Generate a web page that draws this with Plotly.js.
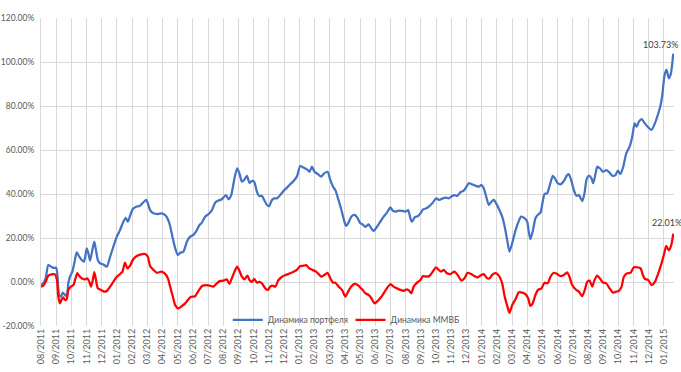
<!DOCTYPE html>
<html>
<head>
<meta charset="utf-8">
<script src="https://cdn.plot.ly/plotly-3.0.1.min.js"></script>
<style>html,body{margin:0;padding:0;background:#fff}#chart{width:681px;height:372px}</style>
</head>
<body>
<div id="chart"></div>
<script>
// Month ticks (index 0 = 08/2011)
const tickLabels = ["08/2011","09/2011","10/2011","11/2011","12/2011","01/2012","02/2012","03/2012","04/2012","05/2012","06/2012","07/2012","08/2012","09/2012","10/2012","11/2012","12/2012","01/2013","02/2013","03/2013","04/2013","05/2013","06/2013","07/2013","08/2013","09/2013","10/2013","11/2013","12/2013","01/2014","02/2014","03/2014","04/2014","05/2014","06/2014","07/2014","08/2014","09/2014","10/2014","11/2014","12/2014","01/2015"];

// Portfolio dynamics: x in months since 08/2011, value in %
const portfolioX = [0.00,0.15,0.31,0.48,0.66,0.81,0.99,1.07,1.19,1.32,1.43,1.58,1.69,1.80,1.91,2.06,2.19,2.35,2.52,2.68,2.83,3.01,3.12,3.23,3.38,3.51,3.62,3.74,3.89,4.10,4.33,4.55,4.76,4.99,5.20,5.42,5.58,5.71,5.86,6.04,6.26,6.48,6.70,6.92,7.03,7.18,7.40,7.69,7.95,8.23,8.45,8.65,8.83,9.01,9.16,9.37,9.60,9.77,10.03,10.26,10.43,10.59,10.80,11.02,11.25,11.46,11.68,11.90,12.17,12.34,12.52,12.73,12.91,13.06,13.22,13.37,13.55,13.72,13.88,14.03,14.21,14.36,14.54,14.69,14.87,15.02,15.20,15.35,15.53,15.74,15.96,16.19,16.40,16.62,16.84,17.06,17.28,17.50,17.67,17.83,18.00,18.23,18.43,18.64,18.86,19.04,19.22,19.37,19.55,19.74,19.91,20.07,20.24,20.42,20.64,20.84,21.01,21.13,21.34,21.56,21.74,21.89,22.11,22.33,22.55,22.77,22.99,23.17,23.32,23.54,23.76,23.98,24.16,24.31,24.42,24.59,24.82,24.97,25.15,25.36,25.56,25.78,26.00,26.22,26.44,26.66,26.83,27.06,27.23,27.39,27.60,27.82,28.00,28.15,28.37,28.59,28.81,28.99,29.14,29.30,29.47,29.64,29.80,29.97,30.17,30.35,30.52,30.68,30.83,31.01,31.23,31.45,31.60,31.82,32.00,32.10,32.21,32.36,32.54,32.69,32.87,33.02,33.14,33.31,33.49,33.68,33.82,34.01,34.19,34.41,34.63,34.74,34.89,35.07,35.24,35.40,35.62,35.77,35.90,36.05,36.23,36.34,36.50,36.61,36.78,36.98,37.20,37.37,37.60,37.81,37.97,38.14,38.32,38.52,38.74,38.91,39.07,39.20,39.35,39.53,39.74,39.97,40.18,40.40,40.63,40.78,40.89,41.04,41.17,41.32,41.46,41.61];
const portfolioY = [-1.4,-0.6,1.8,7.7,7.0,6.4,6.5,4.0,-5.9,-6.7,-4.8,-5.9,-6.4,-0.6,2.4,4.7,8.5,13.5,11.5,10.0,9.2,15.3,13.0,9.7,14.5,18.3,14.5,10.0,8.5,8.0,7.0,11.5,16.0,20.6,23.6,27.4,29.2,27.4,30.0,33.2,34.2,34.5,36.0,37.3,35.8,32.7,31.2,30.9,31.2,30.0,26.7,20.6,15.3,12.3,13.3,13.8,18.3,20.3,21.4,23.6,25.9,27.0,29.7,30.8,32.7,36.0,37.0,37.6,39.5,37.6,39.5,47.1,51.7,49.4,45.6,46.4,48.2,45.1,45.9,45.6,41.0,39.1,39.1,37.3,35.0,34.5,37.3,38.0,38.0,39.5,41.4,42.9,44.4,45.9,47.9,52.7,52.0,51.2,50.1,52.4,50.1,49.0,47.9,49.4,50.1,46.4,43.3,41.8,38.0,33.5,29.0,25.5,27.0,29.7,30.5,29.0,26.7,26.4,25.1,26.2,24.4,23.2,25.1,27.4,29.7,31.5,33.9,32.3,32.0,32.4,32.3,32.0,32.7,29.0,27.4,29.4,30.0,31.2,33.0,33.5,34.5,36.0,38.0,37.3,38.0,38.3,38.0,39.1,39.5,39.1,40.8,41.5,43.3,44.9,44.4,43.8,43.3,44.1,42.6,38.8,35.0,36.5,37.3,35.5,32.7,29.7,25.1,19.1,13.8,17.6,23.5,27.8,29.7,29.0,27.4,22.9,19.5,22.9,29.0,30.5,31.5,36.5,40.0,40.3,44.1,48.2,47.1,44.9,44.4,45.9,48.6,49.0,46.4,41.8,39.2,39.5,36.8,40.3,46.4,48.3,47.1,44.9,49.4,52.4,51.7,50.1,50.9,50.1,48.3,48.6,50.6,49.1,52.4,58.5,61.5,66.0,72.1,70.6,72.9,74.0,72.1,70.3,69.1,72.1,76.7,80.5,85.0,94.1,96.4,92.6,94.9,103.73];

// MICEX index dynamics
const micexX = [0.00,0.15,0.31,0.48,0.70,0.92,1.05,1.14,1.25,1.36,1.47,1.58,1.69,1.80,1.96,2.13,2.24,2.39,2.52,2.68,2.90,3.05,3.18,3.29,3.41,3.51,3.62,3.74,3.95,4.17,4.33,4.55,4.76,4.99,5.20,5.36,5.53,5.69,5.86,6.04,6.30,6.59,6.85,7.03,7.18,7.40,7.62,7.91,8.12,8.35,8.50,8.68,8.83,9.04,9.27,9.49,9.66,9.88,10.14,10.36,10.63,10.92,11.13,11.35,11.57,11.79,12.01,12.23,12.40,12.60,12.73,12.91,13.06,13.22,13.39,13.59,13.72,13.88,14.03,14.21,14.36,14.54,14.76,14.93,15.09,15.24,15.42,15.63,15.86,16.12,16.40,16.62,16.84,17.06,17.28,17.46,17.65,17.87,18.10,18.27,18.45,18.64,18.86,19.04,19.22,19.37,19.59,19.81,20.03,20.21,20.42,20.64,20.84,21.01,21.13,21.34,21.56,21.74,21.96,22.18,22.40,22.62,22.84,23.01,23.21,23.43,23.65,23.87,24.09,24.24,24.37,24.53,24.75,24.97,25.15,25.36,25.56,25.78,26.00,26.17,26.35,26.50,26.72,26.94,27.21,27.42,27.67,27.87,28.08,28.31,28.52,28.74,28.97,29.14,29.36,29.53,29.69,29.91,30.13,30.35,30.52,30.70,30.83,31.01,31.23,31.45,31.67,31.88,32.06,32.21,32.36,32.54,32.71,32.94,33.14,33.35,33.53,33.75,33.97,34.19,34.41,34.63,34.78,34.96,35.18,35.40,35.62,35.79,35.95,36.10,36.28,36.43,36.61,36.78,36.98,37.20,37.42,37.64,37.86,38.03,38.21,38.36,38.58,38.80,39.02,39.24,39.46,39.61,39.74,39.97,40.18,40.40,40.63,40.84,41.02,41.15,41.32,41.48,41.61];
const micexY = [-2.1,-1.7,0.1,2.9,3.5,3.5,0.9,-6.7,-9.7,-7.9,-7.0,-8.2,-7.9,-3.6,-2.1,-1.4,0.9,4.0,2.7,1.7,1.2,1.7,0.1,-2.1,0.9,4.5,0.9,-2.9,-3.6,-4.4,-4.1,-2.1,0.1,2.4,3.6,4.7,8.8,6.2,7.4,10.0,11.8,12.6,12.7,11.5,7.3,5.5,4.2,4.7,4.0,1.7,-2.1,-6.7,-10.5,-12.0,-10.9,-9.7,-8.2,-6.7,-6.5,-4.0,-1.7,-1.4,-1.7,-2.1,-0.6,0.5,0.6,1.2,-0.9,2.4,4.7,7.0,5.1,2.4,1.2,2.9,0.9,0.1,1.4,-0.3,0.1,-0.6,-2.9,-3.6,-2.1,-1.7,-2.1,0.9,2.4,3.2,4.0,4.7,5.5,7.3,7.4,7.7,6.2,5.5,4.7,3.6,2.4,3.2,4.2,1.7,-0.3,-0.3,-2.1,-3.6,-6.7,-4.4,-2.1,-0.9,-1.4,-2.5,-3.3,-5.1,-5.9,-7.4,-9.7,-8.5,-6.7,-4.4,-2.1,-1.0,-2.1,-2.9,-3.6,-4.0,-3.3,-4.0,-5.1,-2.1,-0.3,0.9,2.7,2.4,2.7,4.7,6.7,5.5,4.7,5.5,4.0,3.6,4.7,3.2,0.6,1.7,4.2,3.6,2.7,2.1,3.2,3.6,1.7,1.7,3.2,4.0,2.9,-0.6,-6.7,-11.2,-14.0,-10.5,-7.8,-4.7,-4.8,-5.5,-7.4,-10.9,-9.7,-5.9,-3.6,-2.9,-0.3,-0.6,2.4,4.2,3.6,2.7,3.2,4.4,2.4,-1.4,-3.3,-4.4,-6.4,-3.6,0.1,0.6,-2.1,0.9,2.9,1.7,-0.3,-0.6,-2.9,-4.8,-4.4,-4.0,-2.1,2.4,4.0,4.2,6.7,6.7,6.2,3.2,1.4,0.9,-1.4,0.1,4.0,8.5,13.0,16.4,14.5,16.8,22.01];

const seriesNames = ["Динамика портфеля", "Динамика ММВБ"];
const yTicks = [-20,0,20,40,60,80,100,120];

const tickVals = tickLabels.map((_, i) => i);
const yTickText = yTicks.map(v => v.toFixed(2) + '%');
const font = "Lato, 'Open Sans', 'Liberation Sans', sans-serif";

const traces = [
  {x: portfolioX, y: portfolioY, name: seriesNames[0], type: 'scatter', mode: 'lines', legend: 'legend',
   line: {color: '#4472C4', width: 2.25, shape: 'spline', smoothing: 0.6}},
  {x: micexX, y: micexY, name: seriesNames[1], type: 'scatter', mode: 'lines', legend: 'legend2',
   line: {color: '#FF0000', width: 2.25, shape: 'spline', smoothing: 0.6}}
];

const lastP = portfolioY.length - 1, lastM = micexY.length - 1;
const legendBase = {orientation: 'h', xanchor: 'left', y: 0.0195, yanchor: 'middle',
  bgcolor: 'rgba(0,0,0,0)', font: {size: 8.5, color: '#595959'}, itemwidth: 30};

const layout = {
  width: 681, height: 372,
  margin: {l: 41, r: 7, t: 18, b: 46, pad: 0},
  paper_bgcolor: '#fff', plot_bgcolor: '#fff',
  font: {family: font, size: 9, color: '#595959'},
  showlegend: true,
  legend: Object.assign({}, legendBase, {x: 0.295}),
  legend2: Object.assign({}, legendBase, {x: 0.489}),
  xaxis: {range: [0, 41.66], tickmode: 'array', tickvals: tickVals, ticktext: tickLabels,
          tickangle: -90, showgrid: true, gridcolor: '#d9d9d9', gridwidth: 1,
          zeroline: false, showline: false, ticks: '', tickfont: {size: 9, color: '#595959'}},
  yaxis: {range: [-20, 120], tickmode: 'array', tickvals: yTicks, ticktext: yTickText,
          showgrid: true, gridcolor: '#d9d9d9', gridwidth: 1, zeroline: true, zerolinecolor: '#d9d9d9', zerolinewidth: 1,
          showline: true, linecolor: '#d9d9d9', ticks: '', ticklabelstandoff: 4, tickfont: {size: 8.5, color: '#595959'}},
  annotations: [
    {x: portfolioX[lastP], y: portfolioY[lastP], text: portfolioY[lastP].toFixed(2) + '%', showarrow: false,
     xanchor: 'center', yanchor: 'middle', xshift: -13, yshift: 9, font: {size: 9, color: '#404040'}},
    {x: micexX[lastM], y: micexY[lastM], text: micexY[lastM].toFixed(2) + '%', showarrow: false,
     xanchor: 'center', yanchor: 'middle', xshift: -6, yshift: 11, font: {size: 9, color: '#404040'}}
  ]
};

Plotly.newPlot('chart', traces, layout, {staticPlot: true, displayModeBar: false});
</script>
</body>
</html>
